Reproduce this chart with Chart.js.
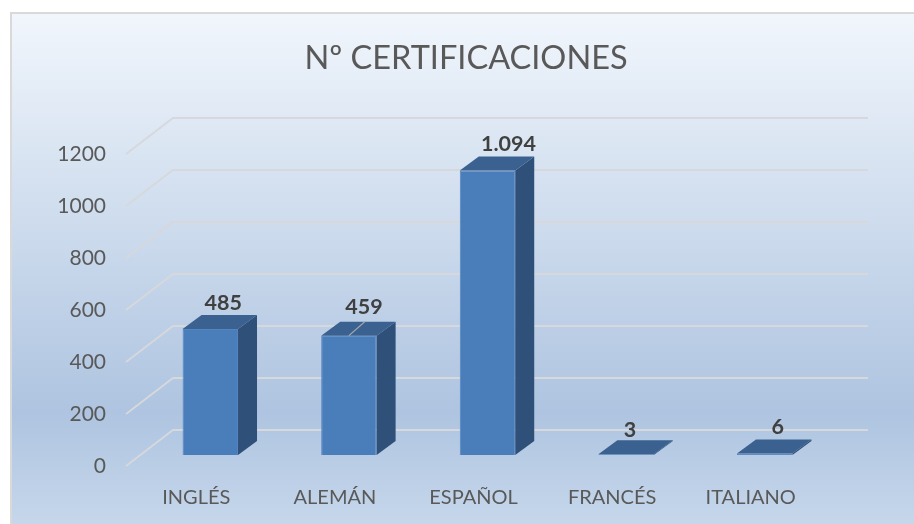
<!DOCTYPE html>
<html><head><meta charset="utf-8">
<style>html,body{margin:0;padding:0;background:#fff}canvas{display:block;position:absolute;left:0;top:0}</style>
<script src="https://cdn.jsdelivr.net/npm/chart.js@4"></script></head>
<body><canvas id="c" width="914" height="524"></canvas>
<script>
const categories = ["INGLÉS","ALEMÁN","ESPAÑOL","FRANCÉS","ITALIANO"];
const certifications = [485,459,1094,3,6];
const valueLabels = ["485","459","1.094","3","6"];
const labelGaps = [26,29,26,24,26];
const labelShifts = [13,15,21,4,13];
const titleText = "Nº CERTIFICACIONES";
const FONT = "Lato, Carlito, sans-serif";
const DX = 19, DY = -14;

const scene = {
  id:'scene',
  beforeDraw(ch){
    const c = ch.ctx;
    const g = c.createLinearGradient(0,14,0,524);
    g.addColorStop(0,'#f1f6fc'); g.addColorStop(0.78,'#aec4e0'); g.addColorStop(1,'#c6d7eb');
    c.save();
    c.fillStyle='#fff'; c.fillRect(0,0,914,524);
    c.fillStyle='#d9d9d9'; c.fillRect(10,12,904,512);
    c.fillStyle=g; c.fillRect(12,14,902,510);
    c.restore();
  },
  beforeDatasetsDraw(ch){
    const c = ch.ctx, y = ch.scales.y, a = ch.chartArea;
    c.save();
    c.strokeStyle='#d6d8dc'; c.lineWidth=1.8;
    y.ticks.forEach(t=>{
      const p = y.getPixelForValue(t.value);
      c.beginPath(); c.moveTo(a.left-15,p+11); c.lineTo(a.left+32,p-25); c.lineTo(a.right+34,p-25); c.stroke();
    });
    c.restore();
  },
  afterDatasetsDraw(ch){
    const c = ch.ctx, y = ch.scales.y;
    const els = ch.getDatasetMeta(0).data;
    c.save();
    els.forEach(e=>{
      const l=e.x-e.width/2, r=e.x+e.width/2, t=e.y, b=y.getPixelForValue(0);
      c.fillStyle='#2f5078';
      c.beginPath(); c.moveTo(r,t); c.lineTo(r+DX,t+DY); c.lineTo(r+DX,b+DY); c.lineTo(r,b); c.closePath(); c.fill();
      c.fillStyle='#3a618f';
      c.beginPath(); c.moveTo(l,t); c.lineTo(l+DX,t+DY); c.lineTo(r+DX,t+DY); c.lineTo(r,t); c.closePath(); c.fill();
    });
    const e1 = els[1];
    c.strokeStyle='#a9adb3'; c.lineWidth=1.2;
    c.beginPath(); c.moveTo(e1.x,e1.y); c.lineTo(e1.x+16,e1.y-14); c.stroke();
    c.fillStyle='#404040'; c.font='bold 21.5px '+FONT; c.textAlign='center'; c.textBaseline='middle';
    els.forEach((e,i)=> c.fillText(valueLabels[i], e.x+labelShifts[i], e.y-labelGaps[i]));
    c.restore();
  }
};

new Chart(document.getElementById('c'),{
  type:'bar',
  data:{labels:categories,datasets:[{data:certifications,backgroundColor:'#4a7ebb',borderColor:'#5585c0',borderWidth:1,barPercentage:0.4,categoryPercentage:1}]},
  plugins:[scene],
  options:{
    responsive:false,animation:false,
    layout:{padding:{left:18,right:0,top:0,bottom:0}},
    plugins:{legend:{display:false},tooltip:{enabled:false},
      title:{display:true,text:titleText,color:'#595959',font:{family:FONT,size:32.5,weight:'normal'},padding:{top:39,bottom:65}}},
    scales:{
      x:{position:'bottom',grid:{display:false,drawTicks:false},border:{display:false},
        afterFit(s){s.height=69;},
        ticks:{color:'#595959',font:{family:FONT,size:20},labelOffset:-14,padding:31,maxRotation:0,autoSkip:false}},
      y:{min:0,max:1200,grid:{display:false,drawTicks:false},border:{display:false},
        afterFit(s){s.width=123;},
        ticks:{stepSize:200,color:'#595959',font:{family:FONT,size:21},labelOffset:11,padding:35,callback:v=>String(v)}},
      spacer:{position:'right',min:0,max:1,grid:{display:false,drawTicks:false},border:{display:false},
        ticks:{display:false},afterFit(s){s.width=80;}}
    }
  }
});
</script></body></html>
